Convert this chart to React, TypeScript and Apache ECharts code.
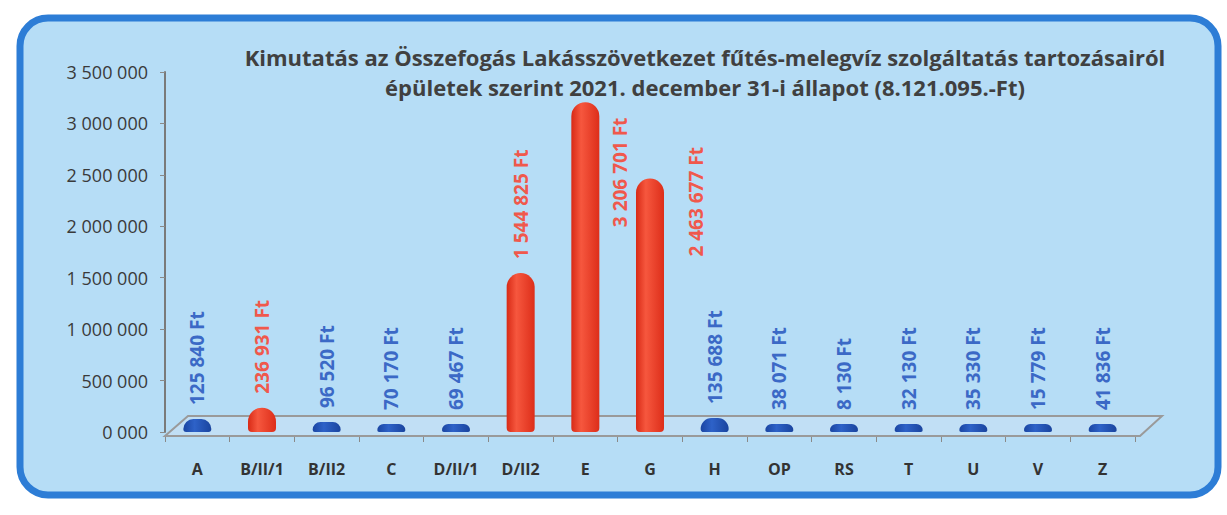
import React, { useEffect, useRef } from "react";
import * as echarts from "echarts";

const categories = ["A", "B/II/1", "B/II2", "C", "D/II/1", "D/II2", "E", "G", "H", "OP", "RS", "T", "U", "V", "Z"];
const debts = [125840, 236931, 96520, 70170, 69467, 1544825, 3206701, 2463677, 135688, 38071, 8130, 32130, 35330, 15779, 41836];
const highlighted = ["B/II/1", "D/II2", "E", "G"];
const yMax = 3500000;
const yStep = 500000;
const titleLines = [
  "Kimutatás az Összefogás Lakásszövetkezet fűtés-melegvíz szolgáltatás tartozásairól",
  "épületek szerint 2021. december 31-i állapot (8.121.095.-Ft)",
];

const fmt = (n: number) => n.toString().replace(/\B(?=(\d{3})+(?!\d))/g, " ");

export default function App() {
  const ref = useRef<HTMLDivElement>(null);
  useEffect(() => {
    if (!ref.current) return;
    const chart = echarts.init(ref.current, null, { renderer: "svg" });
    const redFill = new echarts.graphic.LinearGradient(0, 0, 1, 0, [
      { offset: 0, color: "#d82a16" },
      { offset: 0.35, color: "#f6573e" },
      { offset: 1, color: "#dd2e1a" },
    ]);
    const blueFill = new echarts.graphic.LinearGradient(0, 0, 1, 0, [
      { offset: 0, color: "#1a45a2" },
      { offset: 0.4, color: "#2e62c8" },
      { offset: 1, color: "#1a449e" },
    ]);
    const labelOverrides: Record<string, any> = {
      E: { position: [49, 125] },
      G: { position: [60, 78] },
    };
    const data = debts.map((v, i) => {
      const cat = categories[i];
      const hot = highlighted.includes(cat);
      return {
        value: v,
        itemStyle: { color: hot ? redFill : blueFill },
        label: {
          color: hot ? "#f0584c" : "#3b69c6",
          ...(labelOverrides[cat] || {}),
        },
      };
    });
    chart.setOption({
      animation: false,
      graphic: [
        {
          type: "rect",
          z: -10,
          silent: true,
          shape: { x: 20, y: 18, width: 1198, height: 477, r: 28 },
          style: { fill: "#b6ddf6", stroke: "#2d7dd6", lineWidth: 7 },
        },
        {
          type: "polygon",
          z: -5,
          silent: true,
          shape: { points: [[165, 436], [1140, 436], [1162, 416], [188, 416]] },
          style: { fill: "rgba(200,225,245,0.6)", stroke: "#9a9a9a", lineWidth: 2 },
        },
      ],
      title: {
        text: titleLines.join("\n"),
        left: 700,
        top: 37,
        textAlign: "center",
        textStyle: {
          fontFamily: "Open Sans",
          fontSize: 22,
          fontWeight: "bold",
          color: "#404040",
          lineHeight: 30,
        },
      },
      grid: { left: 165, top: 72, width: 970, height: 360 },
      xAxis: [
        {
          type: "category",
          data: categories,
          axisLine: { show: false },
          axisTick: { show: false },
          axisLabel: {
            margin: 29,
            fontFamily: "Open Sans",
            fontSize: 16,
            fontWeight: "bold",
            color: "#333",
            interval: 0,
          },
        },
        {
          type: "category",
          data: categories,
          position: "bottom",
          offset: 5,
          axisLine: { show: false },
          axisTick: { show: true, length: 5, lineStyle: { color: "#8a8a8a" } },
          axisLabel: { show: false },
        },
      ],
      yAxis: {
        type: "value",
        min: 0,
        max: yMax,
        interval: yStep,
        axisLine: { show: true, lineStyle: { color: "#7a7a7a", width: 2 } },
        axisTick: { show: true, length: 5, lineStyle: { color: "#8a8a8a" } },
        splitLine: { show: false },
        axisLabel: {
          margin: 17,
          fontFamily: "Open Sans",
          fontSize: 18,
          color: "#3a3a3a",
          formatter: (v: number) => (v === 0 ? "0 000" : fmt(v)),
        },
      },
      series: [
        {
          type: "bar",
          data,
          barWidth: 28,
          barMinHeight: 8,
          itemStyle: { borderRadius: [14, 14, 4, 4] },
          label: {
            show: true,
            position: "top",
            distance: 14,
            rotate: 90,
            align: "left",
            verticalAlign: "middle",
            fontFamily: "Open Sans",
            fontSize: 19,
            fontWeight: "bold",
            formatter: (p: any) => `${fmt(p.value)} Ft`,
          },
        },
      ],
    });
    return () => chart.dispose();
  }, []);
  return (
    <div
      ref={ref}
      style={{ position: "fixed", left: 0, top: 0, width: 1227, height: 515, background: "#ffffff" }}
    />
  );
}
